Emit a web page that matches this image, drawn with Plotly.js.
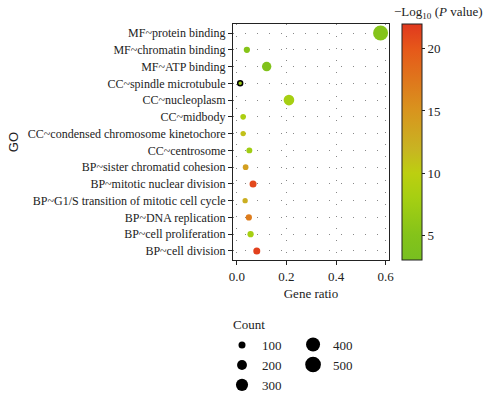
<!DOCTYPE html>
<html>
<head>
<meta charset="utf-8">
<script src="https://cdn.plot.ly/plotly-3.0.1.min.js"></script>
<style>html,body{margin:0;padding:0;background:#fff}#chart{width:500px;height:394px}</style>
</head>
<body>
<div id="chart"></div>
<script>
// GO terms, top to bottom
var terms = [
  "MF~protein binding",
  "MF~chromatin binding",
  "MF~ATP binding",
  "CC~spindle microtubule",
  "CC~nucleoplasm",
  "CC~midbody",
  "CC~condensed chromosome kinetochore",
  "CC~centrosome",
  "BP~sister chromatid cohesion",
  "BP~mitotic nuclear division",
  "BP~G1/S transition of mitotic cell cycle",
  "BP~DNA replication",
  "BP~cell proliferation",
  "BP~cell division"
];
var geneRatio = [0.58, 0.04, 0.12, 0.013, 0.21, 0.025, 0.025, 0.05, 0.035, 0.065, 0.033, 0.048, 0.055, 0.08];
var counts    = [460, 80, 180, 50, 230, 65, 58, 72, 66, 100, 57, 80, 80, 100];
var negLogP   = [5.0, 5.2, 4.5, 7.0, 8.0, 8.5, 11.0, 7.5, 14.0, 21.0, 12.5, 17.0, 8.0, 21.5];
var legendCounts = [100, 200, 300, 400, 500];
var xTicks = [0.0, 0.2, 0.4, 0.6];
var cbTicks = [5, 10, 15, 20];
var outlinedTerm = "CC~spindle microtubule";

function diam(c){ return 0.7*Math.sqrt(c); }

var scale = [
  [0.0, "#78bf20"],
  [0.105, "#84c31a"],
  [0.263, "#a6cf12"],
  [0.368, "#bccf10"],
  [0.47, "#c8b422"],
  [0.63, "#d8951e"],
  [0.895, "#e6581a"],
  [1.0, "#e0381e"]
];

var serif = "Liberation Serif";
var ink = "#222";

var traces = [{
  type: "scatter", mode: "markers",
  x: geneRatio, y: terms,
  showlegend: false,
  hoverinfo: "x+y",
  marker: {
    size: counts.map(diam),
    sizemode: "diameter",
    color: negLogP,
    cmin: 3, cmax: 22,
    colorscale: scale,
    opacity: 1,
    line: {
      width: terms.map(function(t){ return t === outlinedTerm ? 1.5 : 0; }),
      color: terms.map(function(t){ return t === outlinedTerm ? "#000" : "rgba(0,0,0,0)"; })
    },
    colorbar: {
      x: 1.083, xanchor: "left", xpad: 0,
      y: 0.5, yanchor: "middle", ypad: 0,
      len: 1, lenmode: "fraction",
      thickness: 20, thicknessmode: "pixels",
      outlinewidth: 1, outlinecolor: ink,
      ticks: "outside", ticklen: 3, tickcolor: ink,
      tickvals: cbTicks,
      tickfont: {family: serif, size: 13, color: ink},
      title: {text: ""}
    }
  }
}];

legendCounts.forEach(function(c, i){
  traces.push({
    type: "scatter", mode: "markers",
    x: [null], y: [null],
    name: String(c),
    legend: i < 3 ? "legend" : "legend2",
    marker: {size: diam(c), color: "#000"},
    hoverinfo: "skip"
  });
});

var layout = {
  width: 500, height: 394,
  margin: {l: 233, r: 111, t: 24, b: 134, autoexpand: false},
  paper_bgcolor: "#fff", plot_bgcolor: "#fff",
  font: {family: serif, size: 13, color: ink},
  xaxis: {
    range: [-0.016, 0.614],
    tickmode: "array",
    tickvals: xTicks, ticktext: xTicks.map(function(v){ return v.toFixed(1); }),
    ticks: "outside", ticklen: 4, tickcolor: ink,
    showline: true, linecolor: ink, linewidth: 1, mirror: true,
    showgrid: true, gridcolor: "#888", gridwidth: 1, griddash: "1px,11px",
    zeroline: false,
    tickfont: {family: serif, size: 13, color: ink},
    title: {text: "Gene ratio", font: {family: serif, size: 13, color: ink}, standoff: 6}
  },
  yaxis: {
    type: "category",
    categoryorder: "array", categoryarray: terms,
    tickmode: "array", tickvals: terms, ticktext: terms,
    range: [13.54, -0.54],
    ticks: "outside", ticklen: 4, tickcolor: ink,
    showline: true, linecolor: ink, linewidth: 1, mirror: true,
    showgrid: true, gridcolor: "#888", gridwidth: 1, griddash: "1px,11px",
    zeroline: false,
    tickfont: {family: serif, size: 12, color: ink},
    title: {text: "GO", font: {family: "Liberation Sans", size: 13, color: ink}, standoff: 6}
  },
  legend: {
    x: -0.0705, xanchor: "left", y: -0.297, yanchor: "top",
    orientation: "v", itemsizing: "trace",
    font: {family: serif, size: 13, color: ink},
    bgcolor: "rgba(0,0,0,0)", tracegroupgap: 0
  },
  legend2: {
    x: 0.385, xanchor: "left", y: -0.295, yanchor: "top",
    orientation: "v", itemsizing: "trace",
    font: {family: serif, size: 13, color: ink},
    bgcolor: "rgba(0,0,0,0)", tracegroupgap: 0
  },
  annotations: [{
    xref: "paper", yref: "paper",
    x: 1.02, y: 1.0, xanchor: "left", yanchor: "bottom", yshift: 1,
    text: "\u2212Log<sub>10</sub> (<i>P</i> value)",
    showarrow: false,
    font: {family: serif, size: 13, color: ink}
  }, {
    xref: "paper", yref: "paper",
    x: 0, y: -0.275, xanchor: "left", yanchor: "middle", xshift: -2,
    text: "Count",
    showarrow: false,
    font: {family: serif, size: 13, color: ink}
  }]
};

Plotly.newPlot("chart", traces, layout, {displayModeBar: false, staticPlot: true});
</script>
</body>
</html>
